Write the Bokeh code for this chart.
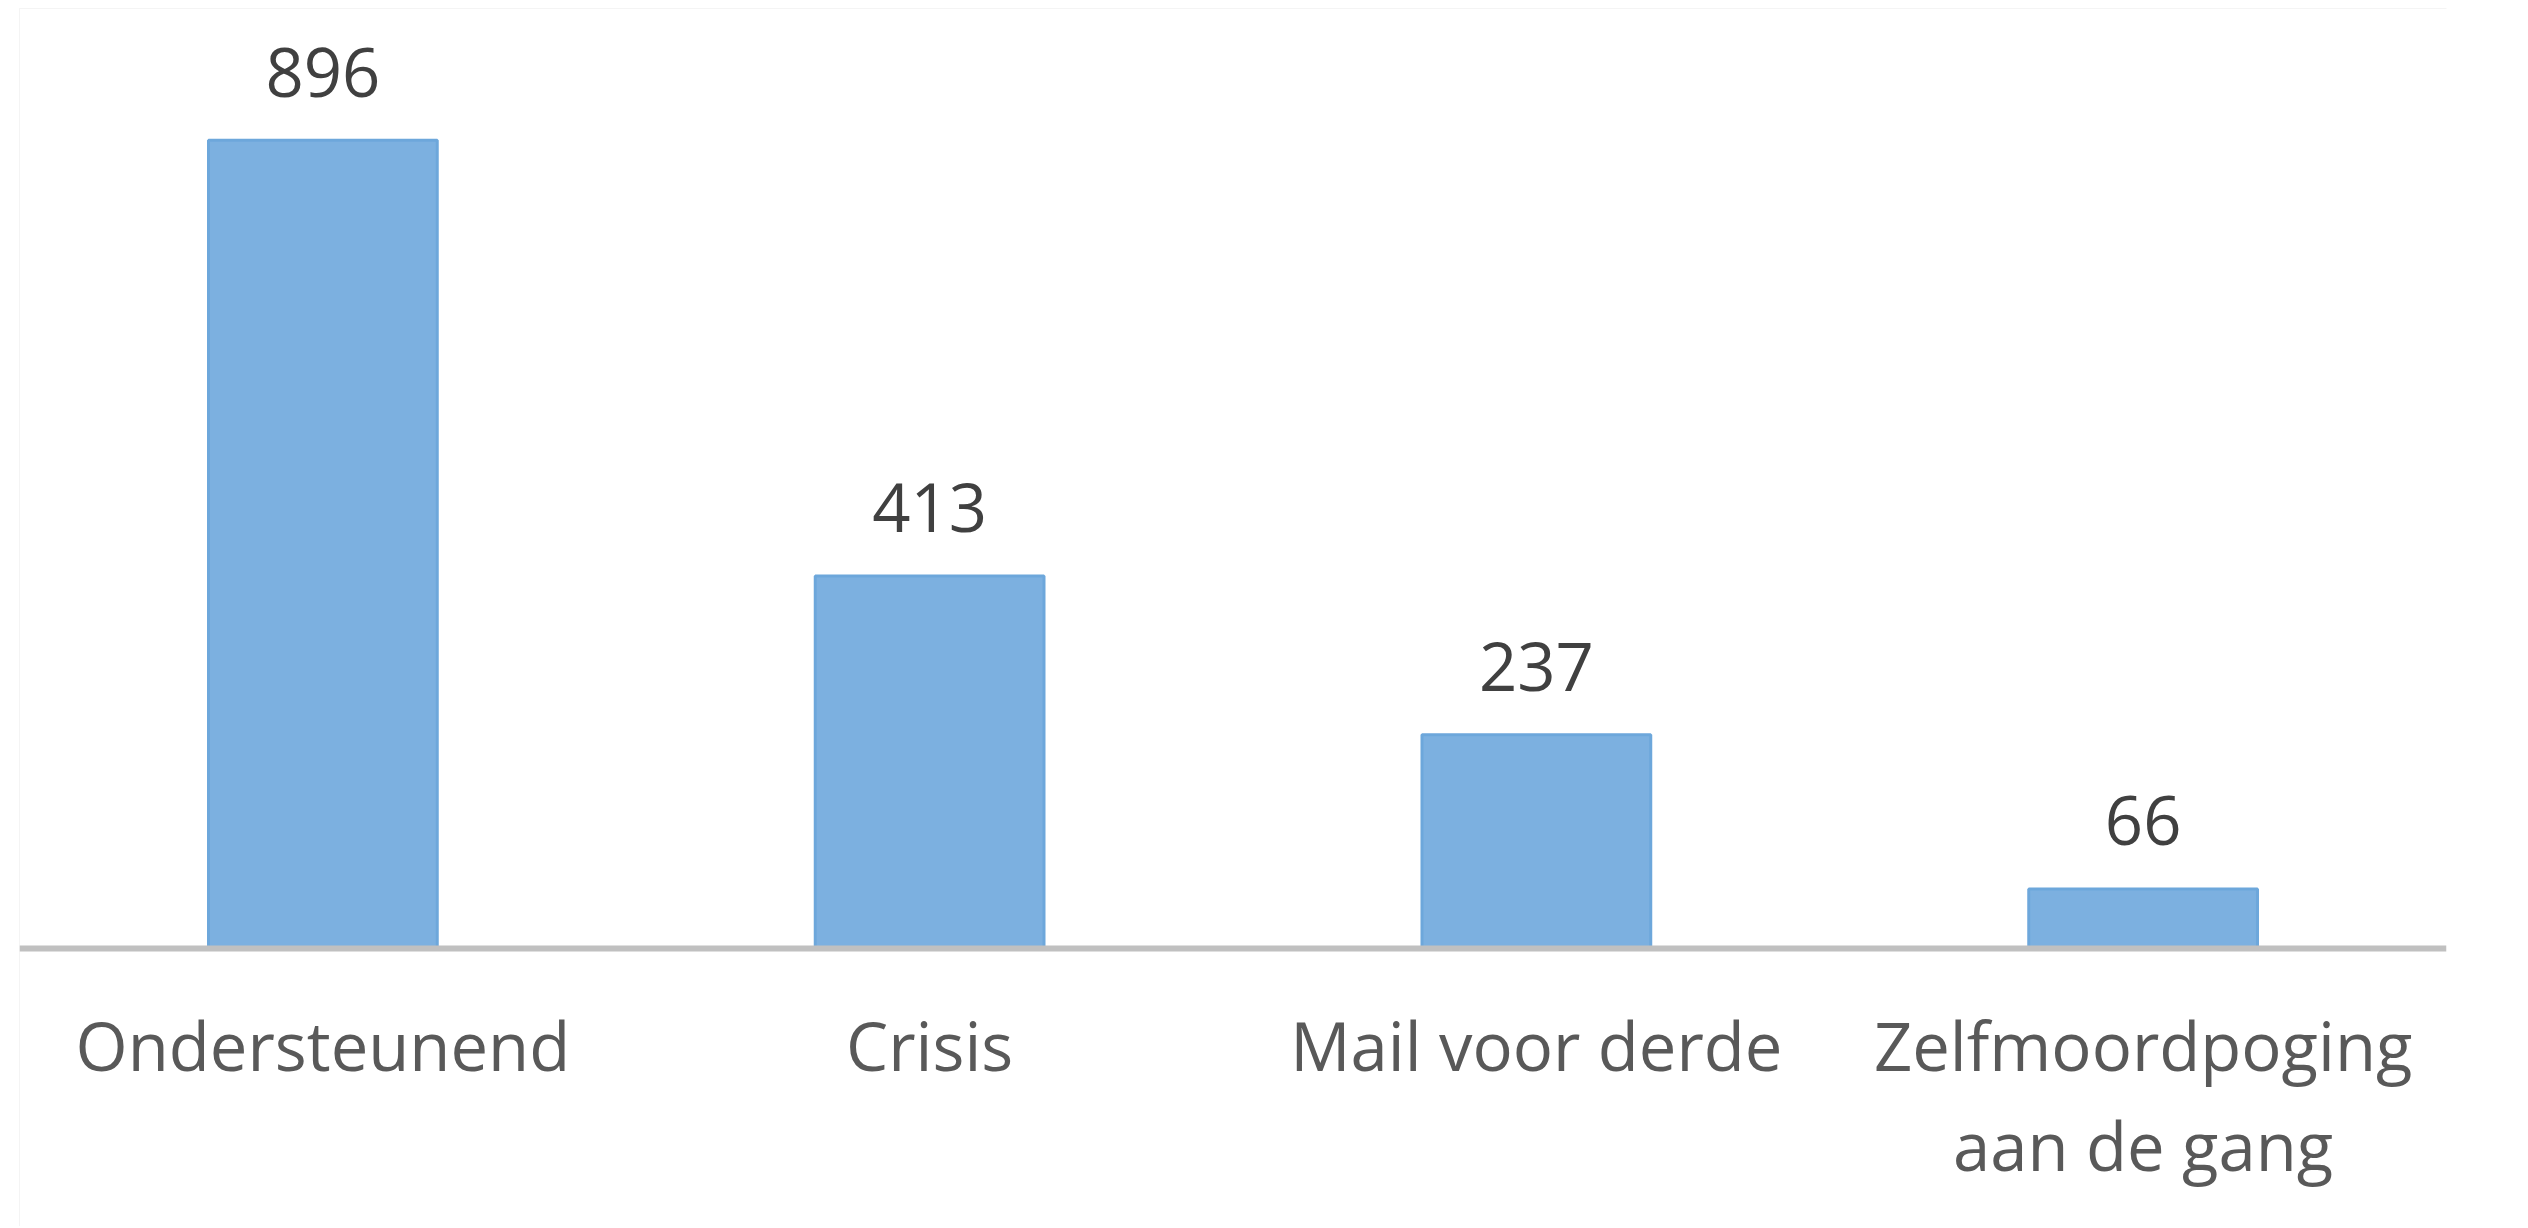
from bokeh.plotting import figure
from bokeh.models import ColumnDataSource, Range1d, FactorRange, Span, BoxAnnotation
from bokeh.core.properties import value
from bokeh.embed import file_html
from bokeh.resources import INLINE

# ---- data ----
categories = ["Ondersteunend", "Crisis", "Mail voor derde", "Zelfmoordpoging aan de gang"]
tick_labels = ["Ondersteunend", "Crisis", "Mail voor derde", "Zelfmoordpoging\naan de gang"]
counts = [896, 413, 237, 66]
count_labels = [str(v) for v in counts]

src = ColumnDataSource(dict(cat=categories, val=counts, lab=count_labels,
                            tick=tick_labels, zero=[0] * len(counts)))

W, H = 2526, 1226

p = figure(
    x_range=FactorRange(factors=categories, range_padding=0),
    y_range=Range1d(-308.2, 1042.1),
    width=W, height=H,
    output_backend="svg", toolbar_location=None,
    min_border_left=19, min_border_right=80, min_border_top=8, min_border_bottom=0,
    x_axis_location=None, y_axis_location=None,
)
p.background_fill_color = "white"
p.border_fill_color = "white"
p.outline_line_color = None
p.xgrid.visible = False
p.ygrid.visible = False


def strip(l, r, t, b, color):
    p.add_layout(BoxAnnotation(left=l, right=r, top=t, bottom=b,
                               left_units="canvas", right_units="canvas",
                               top_units="canvas", bottom_units="canvas",
                               fill_color=color, fill_alpha=1, line_color=None,
                               level="overlay"))


# page background strips and chart-area border (left and top)
strip(0, 15, 0, H, "#EDF1F7")
strip(0, W, 0, 4, "#EDF1F7")
strip(15, 19, 4, H, "#D4D4D4")
strip(15, W, 4, 8, "#D4D4D4")

p.vbar(x="cat", top="val", width=0.377, bottom=0, source=src,
       fill_color="#7CB0E0", line_color="#6DA7DB", line_width=3)

# baseline (category axis line)
p.add_layout(Span(location=0, dimension="width", line_color="#C0C0C0", line_width=6))

# value labels
p.text(x="cat", y="val", text="lab", source=src,
       text_font=value("Open Sans"), text_font_size="67px",
       text_color="#404040", text_align="center", text_baseline="alphabetic",
       y_offset=-68)

# category labels
p.text(x="cat", y="zero", text="tick", source=src,
       text_font=value("Open Sans"), text_font_size="67px",
       text_color="#595959", text_align="center", text_baseline="top",
       text_line_height=1.08, y_offset=51)

open("out.html", "w").write(file_html(p, INLINE))
